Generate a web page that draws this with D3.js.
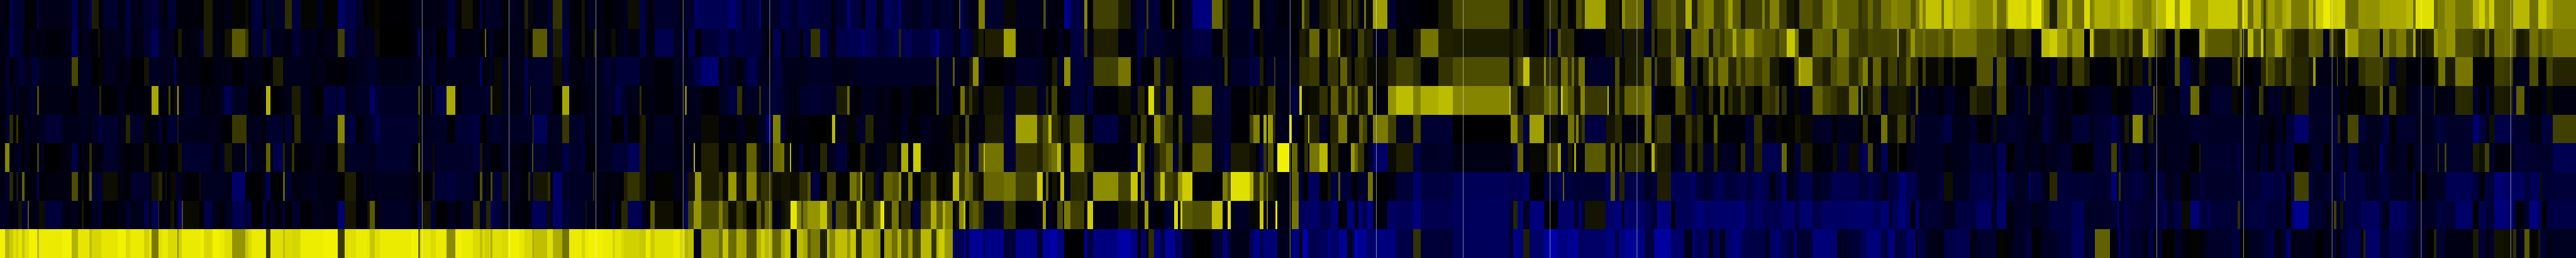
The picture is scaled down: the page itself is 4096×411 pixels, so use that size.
<!DOCTYPE html>
<html><head><meta charset="utf-8">
<script src="https://cdn.jsdelivr.net/npm/d3@7"></script>
<style>html,body{margin:0;padding:0;background:#000;overflow:hidden}svg{display:block}</style>
</head><body><svg id="chart"></svg>
<script>
// Each row holds eight reference segments; each segment is a flat list of (end position, value) pairs.
// Positions run 0-1568 inside a segment; values run -125 (blue) .. 0 (black) .. 100 (yellow).
const row1=[
[25,-10,47,-3,65,-40,118,-22,140,0,180,-4,190,-35,347,-12,380,-38,397,-5,433,-15,447,-40,478,11,500,-5,570,-22,610,-10,633,-35,700,-12,735,-22,768,-30,800,-12,815,-5,855,-28,885,-5,975,-6,988,-3,1032,11,1065,-10,1090,-3,1127,-12,1190,2,1205,5,1220,-5,1272,-30,1290,-3,1312,-25,1325,3,1383,-20,1417,18,1458,-30,1540,2,1568,-18],
[70,1,105,-50,160,-35,197,-20,215,-2,228,-10,252,2,275,3,430,-2,602,-10,642,-28,673,-3,729,8,762,-3,775,-40,788,-3,868,-18,898,-3,978,-14,997,13,1005,-14,1018,3,1090,-12,1116,-25,1162,20,1195,-25,1256,-4,1270,8,1288,-8,1315,-18,1365,-10,1400,-1,1420,-6,1460,-8,1480,-16,1538,5,1568,-35],
[42,-8,135,-22,165,-18,190,-8,205,-25,232,-20,265,-45,400,-40,437,-55,470,-38,482,-12,550,-32,558,-70,582,-10,610,-18,650,-20,700,-35,742,-22,785,-35,845,-28,900,-25,920,-8,975,-25,992,-58,1042,-32,1065,-10,1120,-40,1133,-3,1153,-18,1195,-45,1228,-35,1240,-60,1290,-20,1342,-16,1385,-28,1425,-15,1490,-22,1520,-12,1525,30,1542,-45,1568,-22],
[5,5,47,-12,77,50,170,-22,227,3,360,-14,372,30,385,-25,450,-8,463,-2,491,-70,560,-32,574,52,602,0,724,25,785,11,817,-14,863,-28,871,25,928,-28,952,-2,988,-3,996,45,1036,-6,1083,-18,1179,-62,1232,40,1240,-14,1255,15,1272,3,1362,-18,1381,-5,1410,38,1442,-10,1480,-16,1498,-12,1555,-6,1568,-18],
[28,1,35,-35,47,-4,60,45,85,18,133,-12,172,10,188,15,225,22,235,-1,267,12,288,28,295,-3,318,18,328,8,350,-12,360,45,392,4,463,62,505,-25,626,-6,710,0,781,10,832,28,1054,30,1072,5,1096,-8,1121,18,1152,-16,1223,0,1255,14,1289,18,1305,-6,1338,18,1380,2,1405,32,1422,20,1523,63,1540,8,1568,10],
[20,10,33,0,48,55,141,40,178,-28,204,18,271,32,295,40,343,22,372,68,400,12,430,40,480,50,532,25,550,42,571,62,612,35,632,10,715,25,728,50,752,25,798,50,833,24,870,10,893,5,960,32,1008,24,1057,45,1077,55,1182,36,1200,20,1228,25,1252,40,1292,26,1340,44,1372,52,1435,48,1460,30,1478,45,1493,70,1508,50,1568,76],
[17,75,30,45,70,78,85,62,154,70,187,60,268,52,284,70,331,42,340,65,430,85,452,72,502,90,515,60,543,42,579,12,627,50,651,74,710,42,737,85,755,50,762,60,834,68,868,62,882,65,905,78,944,74,994,55,1035,48,1062,60,1107,72,1150,90,1173,60,1225,88,1268,62,1312,62,1455,78,1475,42,1502,80,1530,42,1568,68],
[12,45,24,25,35,50,68,62,105,52,125,65,150,70,236,48,258,72,272,45,308,80,345,92,380,80,418,82,432,40,484,40,518,58,592,57,638,65,722,66,758,72,770,42,860,88,880,40,915,48,967,58,1053,45,1085,70,1113,82,1136,60,1160,80,1212,45,1254,44,1336,72,1380,44,1420,78,1452,64,1568,52]];
const row2=[
[47,-10,65,-42,108,-25,120,-15,140,-2,180,-12,190,-3,218,-10,303,-5,347,-10,380,-45,397,-5,433,-14,478,-6,482,20,497,-4,610,-12,633,-30,700,-10,735,-25,768,-42,845,-15,865,-2,882,10,967,-8,988,-25,1032,11,1075,-10,1090,-3,1127,7,1190,35,1205,20,1220,-5,1275,-25,1292,7,1312,-40,1383,-12,1417,-8,1458,-25,1515,-12,1540,-15,1568,-6],
[71,-12,105,25,160,-30,215,-14,252,-18,275,4,430,0,463,-8,472,-60,485,-5,523,-14,533,-4,547,-25,602,0,642,-38,673,-3,730,-10,762,-12,787,-2,793,40,812,-12,822,-30,868,-6,898,-2,978,-12,997,6,1018,-4,1087,35,1116,-25,1162,11,1195,-35,1256,-5,1270,8,1288,-4,1315,-8,1325,12,1365,-10,1400,-6,1420,5,1460,-10,1480,-20,1538,-8,1568,-35],
[42,-8,135,-38,165,-14,190,-25,205,-2,238,-40,267,-4,355,-28,398,-38,437,-22,470,-35,555,-30,582,-16,615,-3,657,-42,672,0,748,-25,763,-3,798,-32,845,20,878,-45,900,-18,920,-8,975,-35,1050,-40,1063,-60,1120,-38,1155,-25,1195,-32,1228,-42,1240,14,1290,-40,1385,-30,1410,-45,1423,-65,1490,-30,1525,-12,1550,-38,1568,-30],
[20,-30,47,4,72,11,77,-10,169,12,227,62,330,-10,360,-14,428,-2,460,-15,491,-5,560,-32,574,22,604,-12,724,12,785,-8,817,-6,853,-35,863,10,951,-22,1036,-12,1083,-22,1179,-32,1232,-8,1254,18,1272,-5,1362,-14,1383,-30,1410,-4,1428,5,1448,-14,1568,-12],
[35,-6,65,12,85,8,133,40,172,-1,188,40,225,28,235,52,265,3,288,8,303,-18,320,-2,350,25,365,10,392,12,466,-16,505,15,588,-4,626,12,710,45,781,13,832,11,1054,11,1072,5,1096,12,1121,14,1152,5,1223,-2,1237,12,1289,-16,1305,32,1338,16,1370,18,1392,0,1422,-5,1523,-10,1568,8],
[33,10,42,-28,141,10,178,-22,192,22,204,-2,271,16,295,40,343,14,370,-20,400,42,430,40,455,44,476,8,510,35,532,22,571,35,588,65,632,38,674,58,715,38,777,32,797,22,833,35,872,78,892,45,902,5,960,6,1008,40,1057,38,1077,15,1137,48,1182,25,1227,20,1252,28,1292,26,1330,25,1370,28,1378,70,1412,14,1435,30,1457,58,1493,36,1508,42,1568,34],
[30,40,70,30,85,52,154,45,187,45,268,33,284,35,331,22,340,6,370,10,430,25,452,22,502,-10,543,72,579,80,627,62,651,42,710,58,737,-8,755,75,760,30,834,20,868,30,905,22,925,15,944,30,994,12,1022,72,1050,50,1090,22,1107,15,1150,-6,1173,42,1225,0,1268,1,1295,65,1312,40,1428,35,1465,25,1475,50,1502,15,1530,72,1568,35],
[12,78,24,18,68,40,105,63,125,35,150,28,166,22,236,13,272,36,308,32,340,-18,362,30,382,14,394,8,418,6,432,75,484,60,518,38,592,40,608,-8,638,50,671,35,722,48,758,25,770,65,822,10,860,14,880,60,922,50,967,58,1053,30,1085,20,1113,16,1136,40,1160,10,1212,42,1254,44,1272,32,1312,10,1336,14,1380,44,1400,30,1420,40,1452,36,1568,46]];
const row3=[
[27,-8,47,-25,63,0,90,-15,120,-25,155,-14,190,-28,347,-12,380,28,447,-16,478,0,497,2,570,-14,610,-8,633,-14,700,-2,725,8,770,-18,845,-14,855,-45,975,-8,1032,-2,1127,-10,1190,-2,1198,-25,1275,-10,1312,-2,1325,-10,1373,12,1510,-14,1540,-8,1568,-12],
[70,-6,105,-3,160,-10,215,-14,252,-20,275,-16,430,-10,470,-14,485,-10,523,-18,547,-25,600,-8,762,-14,775,-50,803,-4,828,-16,868,3,898,-18,918,-8,978,-12,997,-40,1018,-14,1116,-22,1162,5,1195,-25,1256,-8,1270,-3,1288,-20,1315,-12,1360,-14,1400,-25,1420,-18,1538,-28,1568,-12],
[42,-12,135,-5,165,-16,205,-14,232,-20,267,-35,355,-55,372,-3,398,-25,442,-16,465,-3,488,-18,540,-38,555,-18,615,-14,655,-32,700,-14,785,-12,900,-18,920,-12,1020,-12,1410,-18,1423,28,1488,-18,1498,35,1525,-16,1568,-8],
[20,10,47,55,72,-25,77,-10,169,0,227,-8,330,-20,372,-15,385,2,403,-5,428,11,455,-22,463,-5,491,55,560,-28,604,-20,724,25,785,46,817,-3,835,-28,870,-6,898,-6,928,25,952,-25,992,5,1018,-10,1036,-1,1083,-18,1179,-20,1240,-16,1254,22,1272,-3,1362,-20,1410,-32,1428,12,1445,-3,1480,-20,1488,22,1555,-15,1568,-5],
[35,-14,85,18,133,22,172,-10,225,20,235,-18,267,38,288,10,303,-5,325,15,345,18,365,15,465,4,505,14,588,25,626,17,710,-4,781,20,832,30,1054,30,1072,-4,1096,18,1121,30,1152,75,1223,14,1232,55,1289,18,1305,4,1338,42,1358,18,1370,42,1392,12,1422,45,1530,-20,1568,-18],
[20,30,48,3,141,11,178,38,192,-28,204,28,271,7,295,36,335,52,370,-18,400,20,428,0,455,16,476,44,500,18,550,44,588,15,612,36,632,20,674,32,715,24,752,34,797,10,833,2,870,-8,892,30,902,70,960,62,1008,20,1048,11,1077,30,1137,38,1182,16,1202,30,1227,50,1252,8,1292,38,1325,9,1370,24,1378,-30,1412,16,1435,36,1470,18,1478,-2,1493,-5,1508,26,1568,3],
[30,10,70,-6,85,14,154,1,187,-3,268,33,284,-25,331,33,370,-18,430,-6,452,15,502,-4,515,-12,543,-1,579,-20,627,11,651,-2,710,22,737,11,760,-2,834,-6,868,1,888,25,905,3,925,8,944,-6,994,8,1022,-18,1035,20,1062,-10,1107,-1,1150,-10,1173,30,1225,-35,1268,-10,1295,12,1312,1,1428,-12,1455,16,1468,40,1530,-2,1568,-10],
[24,16,35,40,68,28,105,16,125,10,150,32,236,15,258,8,272,60,378,-10,382,40,420,-8,432,18,484,-8,518,18,592,25,608,28,638,14,671,-25,722,5,768,-6,822,-6,860,-1,883,5,917,45,967,10,1053,46,1085,-4,1113,-3,1160,-4,1212,24,1254,22,1264,1,1336,-14,1380,30,1420,-5,1452,26,1568,14]];
const row4=[
[27,-8,65,-22,78,-2,90,-25,140,-8,180,-20,190,30,347,-10,380,-1,430,-15,481,-14,493,15,570,-3,612,-12,633,-2,735,-6,768,65,785,-2,817,-8,828,25,845,-4,860,4,866,65,890,-3,975,-18,988,-2,1075,-8,1090,-20,1127,-40,1205,-16,1275,-3,1292,-18,1312,70,1373,-3,1417,-12,1458,11,1508,-16,1540,-5,1568,-1],
[65,-30,71,-8,105,-35,160,-12,215,-18,227,-20,252,-45,275,-28,463,-18,472,28,485,-8,523,-8,527,12,547,-14,601,-35,641,66,673,-6,793,-18,803,-30,813,-15,822,25,868,3,898,-15,978,-10,995,-40,1005,-5,1008,30,1116,-20,1162,0,1195,65,1256,-4,1288,-8,1325,-12,1360,-12,1418,-20,1447,-38,1480,-20,1538,-12,1546,18,1568,-5],
[42,-10,135,-4,190,-12,198,50,238,-14,267,-14,355,-3,398,-16,441,-32,467,20,488,-14,550,-18,557,20,615,-20,655,-28,700,-15,745,-10,798,-22,845,-25,924,-20,975,11,990,40,1020,-10,1042,0,1065,-15,1120,-14,1170,-8,1195,-10,1225,-2,1240,0,1295,-12,1335,-1,1380,-4,1410,-6,1423,25,1490,-18,1525,-1,1547,45,1568,8],
[15,20,47,6,72,-10,169,8,227,-22,330,9,372,-18,385,15,402,-4,428,25,462,-3,491,-8,560,-28,574,-5,602,-35,724,-6,785,5,818,-14,853,14,871,-1,898,85,928,12,955,-22,990,35,1036,-6,1083,-15,1179,45,1240,-22,1272,-26,1362,-3,1381,8,1392,-2,1410,5,1452,2,1478,20,1488,25,1568,-12],
[35,-35,48,80,85,3,133,5,172,20,188,3,225,35,267,8,288,45,303,20,320,40,350,5,368,8,392,50,465,-6,505,58,588,74,626,50,710,68,781,74,832,52,1054,52,1062,80,1072,20,1096,22,1121,-8,1152,18,1223,22,1237,40,1289,40,1305,8,1316,80,1338,45,1370,32,1400,8,1422,52,1530,22,1537,75,1568,4],
[20,30,45,10,142,38,178,48,192,-38,204,-4,293,-2,343,28,372,8,393,-30,428,6,455,2,476,18,510,1,532,34,550,-1,572,18,612,8,632,25,674,8,715,-1,752,22,777,18,797,28,810,-10,833,18,870,-10,895,3,960,-14,1008,38,1048,26,1077,20,1137,13,1180,44,1195,-35,1202,44,1227,5,1252,12,1292,25,1325,-20,1370,10,1412,11,1435,6,1460,-16,1470,30,1508,-12,1568,-12],
[30,-5,85,-18,154,-6,187,16,260,10,284,-16,331,28,370,-8,438,-18,447,15,515,-12,543,-28,579,-18,627,-8,651,-14,710,-2,737,-10,760,-14,840,-18,872,2,925,-4,944,-10,1046,-26,1052,40,1100,4,1150,-12,1173,-5,1225,-28,1268,42,1296,-6,1320,-4,1428,-22,1455,3,1485,-3,1500,-25,1530,-12,1558,-4,1568,25],
[12,20,35,-8,105,-18,125,3,150,-10,167,3,236,12,272,-18,394,-16,420,-4,432,-18,484,1,518,-1,592,10,608,38,638,-12,671,25,722,4,768,-12,864,-16,868,25,917,-8,967,-10,1053,16,1085,-20,1121,-5,1136,-30,1160,-4,1212,11,1254,10,1272,-32,1312,37,1338,-15,1400,0,1420,-14,1452,4,1568,-8]];
const row5=[
[27,-6,47,-25,63,17,78,-5,90,20,118,-2,135,-18,190,-12,218,-15,303,-25,390,-12,432,-14,447,-5,480,-18,495,-35,570,-22,612,-12,633,15,700,-20,723,2,770,-10,787,-25,803,-1,817,-14,862,-25,866,10,975,-14,1075,-12,1090,-5,1127,-2,1198,22,1275,-14,1292,-5,1373,-22,1383,-1,1417,-25,1428,-1,1458,17,1510,-14,1568,-12],
[71,-18,105,53,160,-30,197,-6,225,-16,252,-22,275,-40,463,-22,472,6,485,-8,523,-14,602,-18,642,-4,729,-25,762,-32,778,-3,795,-1,822,-18,868,-22,898,-14,1017,-18,1020,25,1087,-42,1116,-14,1162,-16,1195,22,1256,-20,1270,-28,1288,-2,1315,-14,1365,-14,1402,-18,1460,-2,1480,-28,1538,-4,1546,8,1568,11],
[42,-10,135,-16,165,-4,210,-12,268,-12,355,4,400,-8,440,-4,488,-12,540,1,582,-15,610,-50,615,-3,652,50,673,-30,742,-4,785,-6,880,0,902,2,917,72,975,-15,1020,2,1065,-20,1105,14,1190,-10,1240,-4,1272,-18,1335,-4,1380,-14,1455,-8,1490,1,1520,8,1550,-6,1568,30],
[47,-5,77,-10,169,11,227,-25,330,62,357,15,385,30,402,70,430,18,445,12,455,-2,490,8,560,35,574,-25,602,-1,724,-32,785,-8,817,12,833,-2,862,22,898,2,928,55,950,30,990,16,1018,2,1036,25,1083,-18,1179,10,1240,-20,1272,-25,1362,-3,1381,25,1410,50,1428,-1,1445,65,1452,-10,1475,60,1488,15,1555,-14,1568,85],
[33,-14,60,0,78,15,85,65,133,14,172,-20,185,-2,225,14,267,46,325,3,345,38,365,25,392,-12,465,48,505,25,588,-18,626,28,710,-24,781,-25,1062,-1,1096,55,1121,18,1154,-35,1222,62,1255,-12,1289,5,1340,-10,1370,45,1380,12,1392,50,1405,8,1420,22,1525,-32,1568,8],
[32,16,48,-10,142,-8,178,45,192,-2,204,15,271,24,295,-14,343,2,372,22,400,8,428,18,480,-4,498,34,632,-4,674,-22,715,18,780,-8,810,3,833,-2,872,1,902,8,960,3,1008,-18,1057,-20,1077,-2,1180,-14,1202,-6,1227,20,1252,-2,1292,-6,1322,45,1370,5,1412,25,1435,-10,1457,14,1478,-25,1568,-18],
[30,-22,68,-35,154,-12,187,-20,260,-3,270,-28,284,5,338,-16,370,-22,430,-18,505,-10,543,-30,580,-16,651,-8,737,-26,760,-14,840,-24,870,-38,905,-16,925,10,944,-16,994,52,1022,-18,1035,12,1046,16,1225,-14,1268,-22,1310,-20,1568,-18],
[12,-6,35,-14,68,-4,105,-16,125,-3,166,-28,236,-50,362,-18,382,-30,394,16,420,-8,432,-14,484,28,518,-28,608,-14,638,-35,671,-3,768,-22,864,-14,917,-28,1053,-20,1085,-55,1121,-30,1136,-12,1160,6,1254,-35,1336,-22,1400,-10,1452,-30,1568,25]];
const row6=[
[25,-6,47,52,78,-10,108,-16,120,-2,140,-14,180,-1,190,25,218,-14,303,-1,347,-8,380,-35,397,-5,433,-8,447,18,482,-8,495,-4,570,-20,610,-10,633,-1,700,-8,723,8,770,-1,815,-10,865,-2,882,8,967,-22,1032,-22,1065,-8,1090,-22,1127,9,1190,-12,1198,25,1220,-30,1292,-10,1312,38,1325,-5,1373,-38,1383,15,1417,-12,1428,20,1510,-5,1568,-12],
[71,-6,105,22,228,-18,252,-12,430,-22,463,-10,472,35,485,-8,533,-18,541,4,730,-20,762,-30,775,10,813,-14,822,-2,868,-5,918,-16,978,-8,997,-1,1015,-18,1020,30,1090,-22,1116,-12,1162,-14,1192,-35,1256,-20,1270,-30,1325,-4,1405,-16,1460,-28,1480,-20,1538,-42,1568,10],
[42,-14,135,-14,180,-8,232,-14,238,70,267,-6,355,12,400,-5,440,12,488,-8,538,38,557,5,615,-14,652,42,672,45,700,6,704,70,745,-5,763,-30,798,-1,845,-10,878,15,920,-14,975,-28,1040,0,1065,15,1105,-8,1170,-12,1222,9,1240,-12,1272,68,1298,-10,1335,80,1380,-10,1455,-4,1498,-8,1520,30,1550,20,1568,45],
[20,-2,47,-25,72,30,77,75,169,45,227,-25,330,18,357,12,385,28,402,38,428,45,445,72,462,15,491,-10,560,57,604,15,724,-6,785,-6,818,-22,833,75,853,40,870,-8,898,-16,926,11,955,24,990,40,1018,-25,1036,20,1083,-2,1179,37,1240,-18,1254,-40,1272,-25,1362,10,1392,5,1410,-10,1428,-40,1445,20,1452,4,1478,33,1498,-12,1555,94,1568,-5],
[27,40,35,5,60,-10,78,18,85,-5,133,46,172,72,188,-3,225,18,287,-6,303,60,320,40,350,22,368,-4,392,-20,465,-50,506,4,588,12,626,-35,710,-18,781,-20,1054,-10,1072,-10,1096,-40,1121,40,1154,-12,1223,3,1237,-8,1289,28,1305,65,1340,-18,1360,10,1370,-6,1380,65,1422,-8,1523,35,1548,5,1568,38],
[20,0,33,35,48,0,142,20,178,0,192,70,204,18,271,10,295,-10,343,-20,372,18,400,-6,428,14,480,-20,498,14,510,-2,590,-18,612,0,632,20,674,-25,715,13,810,-38,833,40,870,2,902,-28,960,10,1008,-4,1057,-8,1077,6,1137,-22,1182,4,1202,-30,1227,-42,1252,25,1292,-10,1325,-40,1370,1,1378,15,1412,0,1460,-14,1478,-20,1568,-18],
[30,-18,68,-8,105,-12,154,-14,187,-28,268,-24,284,-12,331,-38,370,-2,430,-16,445,-8,500,-14,518,-6,579,-14,651,-20,710,-1,755,0,840,-25,867,25,878,-6,888,-60,905,-14,925,-3,995,-22,1022,-6,1046,-16,1062,-25,1100,-12,1107,-2,1225,-14,1268,0,1275,10,1455,-22,1468,-35,1548,-20,1560,-1,1568,-14],
[35,-22,68,-8,105,-25,125,-16,166,-30,236,0,258,-16,308,-22,345,-1,395,-25,420,-18,432,-2,484,-30,518,-12,592,-14,608,-50,638,-22,671,-8,730,-18,758,-1,880,-18,884,20,915,-20,922,25,1053,-22,1085,11,1113,6,1136,25,1160,-22,1212,-6,1254,-4,1336,-25,1400,-22,1452,-20,1568,-40]];
const row7=[
[25,-10,47,-22,63,16,78,-8,90,10,107,-18,118,38,180,-6,190,-45,218,-1,347,-8,380,30,397,-8,405,4,428,-2,433,6,447,35,497,-25,570,5,610,-8,633,-2,723,-22,735,-14,770,7,787,15,803,-8,810,8,828,-6,855,4,882,-20,967,-3,975,6,1090,-16,1127,-12,1190,-52,1220,-3,1275,0,1292,-15,1312,-40,1373,-2,1383,38,1417,-25,1458,-8,1510,-12,1540,-16,1568,-10],
[70,-10,105,-1,160,11,197,-3,215,-18,225,-3,430,-14,463,-8,485,4,523,-1,533,-14,541,10,601,-25,642,-30,730,-22,762,-10,775,32,795,-16,803,4,813,-3,822,30,868,-28,898,8,955,-14,997,-5,1005,18,1020,-25,1090,9,1104,18,1116,-10,1162,-50,1310,-18,1317,20,1365,-10,1400,-5,1418,-10,1460,-6,1480,12,1538,20,1568,10],
[42,-8,135,1,165,-12,190,-6,205,-35,238,8,267,58,355,11,372,22,400,3,438,60,467,8,488,3,538,52,557,10,612,20,655,5,700,8,745,5,783,18,798,32,845,-30,878,-2,920,25,990,1,1022,45,1040,30,1050,70,1065,-1,1105,16,1120,5,1132,-35,1153,-3,1195,38,1228,32,1240,55,1272,4,1295,50,1335,-2,1383,14,1410,32,1440,3,1452,-5,1488,3,1520,72,1547,20,1568,42],
[20,35,47,10,72,4,169,40,227,45,330,25,357,80,372,-18,385,40,405,0,428,8,443,-5,462,75,491,-18,560,16,574,20,602,-10,724,55,785,25,818,78,833,-5,853,52,871,-35,898,-10,928,25,950,75,990,25,1014,18,1036,60,1083,80,1179,-5,1232,-1,1254,48,1272,30,1362,88,1381,68,1410,20,1428,50,1445,20,1452,45,1478,12,1498,5,1568,-8],
[33,38,50,-35,78,-4,133,-45,172,-2,188,8,225,-32,235,35,290,-28,318,-4,368,-22,392,45,465,-1,505,-8,588,-28,626,-52,781,-32,1054,-42,1121,-38,1154,-50,1223,-1,1289,-28,1316,-40,1322,40,1370,-30,1420,-25,1523,-24,1548,-45,1568,35],
[20,-35,45,14,142,-35,178,-16,204,-30,271,12,295,-42,372,-40,390,-50,430,-30,455,-22,478,-30,532,-40,572,-28,612,-32,632,-38,674,-32,728,-42,752,-35,777,-10,810,-28,833,-45,870,-12,895,-25,960,-38,1002,-16,1048,-22,1137,-38,1182,-38,1227,-28,1252,-38,1292,-30,1325,-12,1378,-30,1412,-55,1458,-38,1478,-25,1568,-18],
[30,-25,70,6,154,-16,187,-32,270,-35,284,-8,331,-42,370,-28,440,-16,447,-60,502,-30,515,-20,543,-8,579,16,651,-28,755,-25,840,-22,867,-58,878,-12,888,20,944,-25,994,-32,1035,-22,1046,2,1100,-30,1150,-14,1183,-22,1225,1,1275,-20,1295,-28,1455,-20,1568,-25],
[68,-35,105,-28,125,-40,150,-1,166,-35,236,26,258,-30,308,-16,394,-22,415,-40,420,30,518,-30,592,-18,638,-30,730,-16,758,-12,770,-40,822,0,917,-16,1053,-40,1087,-30,1113,-6,1160,-30,1212,-55,1254,-48,1312,-45,1340,-30,1390,-42,1400,5,1452,-25,1568,-28]];
const row8=[
[47,-16,63,-2,90,-10,107,8,135,-25,140,35,190,-10,218,5,303,-28,347,-10,380,-14,397,-4,405,10,433,-1,447,-8,480,-16,495,-25,570,-4,610,-10,633,-25,700,-12,723,-38,735,-2,768,-40,772,20,828,-8,845,8,865,-6,882,-55,888,30,967,4,988,-2,1032,-35,1065,-12,1090,-3,1127,-16,1190,-38,1205,-22,1220,-35,1275,-1,1292,-35,1312,-5,1325,-25,1373,-8,1383,-35,1417,0,1458,-22,1510,-2,1568,-12],
[70,-10,105,-55,160,8,215,-5,227,8,252,35,275,2,430,-18,463,-8,472,-45,485,-15,523,8,547,-25,602,0,642,-14,673,-6,729,-18,762,18,793,-20,813,15,825,-50,868,-30,925,-14,978,-6,997,-3,1015,-12,1088,-42,1104,4,1116,-20,1162,-48,1195,-25,1275,-20,1280,8,1312,-14,1365,-10,1392,-3,1405,-10,1418,-35,1447,1,1480,16,1545,-40,1568,-18],
[22,0,42,35,135,6,165,-1,190,-4,205,-55,232,25,267,58,355,28,372,50,398,28,438,5,470,25,488,15,538,1,557,35,575,12,612,38,655,-12,673,5,703,10,732,90,752,50,763,25,785,45,845,58,878,76,902,28,920,-30,975,28,992,10,1022,8,1040,72,1065,28,1105,12,1137,42,1155,90,1192,10,1228,45,1240,3,1285,18,1295,-5,1335,-30,1383,28,1410,68,1440,38,1452,70,1488,50,1500,-2,1520,6,1540,55,1550,75,1568,0],
[20,28,47,35,72,20,169,-18,227,20,330,-6,357,-14,372,60,405,-18,428,-6,455,30,463,-25,491,48,560,24,574,-1,603,80,724,-8,785,9,818,18,853,-8,871,62,898,-14,950,-4,996,-25,1014,85,1025,-2,1036,80,1083,35,1179,30,1232,75,1254,-5,1272,88,1362,-18,1392,2,1410,4,1428,80,1445,-8,1452,48,1488,-10,1498,88,1568,-10],
[33,46,78,-45,133,-50,188,-35,225,-55,267,-5,303,-62,318,-2,345,-55,365,-35,392,-68,463,-8,505,-48,588,-42,626,-62,781,-38,1054,-45,1072,-25,1096,15,1121,-60,1154,-15,1222,-60,1238,-8,1289,-2,1345,-50,1370,-55,1392,-20,1405,-55,1422,-25,1523,8,1568,-50],
[33,-60,42,-8,142,-50,178,-38,204,-25,271,-62,293,-6,375,-42,390,-50,430,-58,475,-48,612,-52,632,-60,674,-40,715,-48,780,-38,812,-38,872,-50,895,-30,960,-52,1002,-35,1048,-48,1137,-48,1182,-50,1252,-52,1292,-42,1330,-55,1345,-20,1378,-45,1412,-58,1435,-40,1458,-12,1478,-55,1495,-14,1568,-25],
[30,-22,85,-12,187,-32,260,-48,284,-18,331,-50,370,-8,430,-18,452,-22,502,-12,543,-18,651,-30,710,-42,755,-18,840,-20,870,-25,878,-62,905,-20,925,-35,994,-25,1035,-20,1090,-28,1107,-40,1150,-22,1183,-35,1225,4,1268,-58,1310,-30,1320,-45,1455,-28,1468,18,1500,-22,1568,-30],
[24,-35,105,-25,125,-30,150,-1,166,-55,236,-70,272,-20,308,-25,362,-14,376,25,394,-22,408,8,420,-22,500,-32,592,-45,608,-28,638,-12,722,-45,770,-30,870,-18,917,-30,967,-25,1053,-50,1082,0,1121,-38,1160,-25,1212,-60,1254,-55,1272,-30,1312,-6,1336,-22,1380,-62,1400,-40,1420,-2,1452,-30,1568,-35]];
const row9=[
[25,95,47,70,63,80,78,88,90,82,107,90,118,78,140,88,180,95,190,72,218,92,303,92,347,95,380,70,433,90,447,75,493,84,570,90,610,95,633,86,700,92,723,82,735,90,768,48,787,88,815,92,860,85,866,55,882,82,975,92,988,95,1032,85,1065,95,1090,92,1127,87,1190,58,1205,78,1220,86,1292,92,1312,22,1373,88,1383,75,1417,86,1458,84,1568,93],
[71,95,105,22,160,88,215,92,227,90,252,78,275,88,430,92,463,95,472,42,482,88,523,90,547,86,601,92,641,54,673,94,729,92,762,86,775,75,787,86,803,80,813,84,822,68,868,88,898,85,955,94,978,90,1017,84,1020,55,1087,75,1116,88,1162,68,1195,45,1256,92,1270,84,1288,92,1315,95,1360,94,1405,92,1418,82,1447,90,1460,85,1538,82,1568,78],
[22,92,42,80,135,88,165,92,190,84,205,70,232,75,238,-2,267,-14,355,58,372,42,400,76,438,42,467,68,488,65,538,32,557,70,575,82,612,72,655,40,673,68,703,78,732,-8,763,74,785,66,798,34,845,48,878,12,892,72,918,52,975,75,992,58,1020,78,1048,15,1105,68,1137,60,1155,-2,1192,62,1222,44,1240,70,1272,35,1295,60,1335,25,1385,72,1410,20,1422,70,1450,80,1488,60,1500,-55,1545,-40,1552,-70,1568,-30],
[72,-72,77,-30,169,-65,227,-28,330,-65,358,-22,385,-78,402,-72,428,-85,445,-55,463,-65,560,-2,574,-70,603,-30,724,-62,785,-82,818,-60,833,-3,862,-50,871,-5,898,18,928,-60,950,-30,998,-72,1036,-45,1083,-18,1179,-1,1232,-25,1254,-55,1272,-30,1362,-12,1381,-40,1410,-65,1428,-40,1452,-60,1480,-55,1498,-60,1568,-14],
[36,-62,50,-10,78,-82,133,-38,172,-45,190,-62,228,-50,267,-72,288,-12,303,-35,316,-95,362,-72,405,-50,463,-60,505,-62,588,-35,626,20,710,-28,781,-25,832,-42,1054,-44,1072,-20,1096,-70,1121,-60,1152,12,1223,-50,1238,-70,1289,-82,1340,-62,1392,-72,1422,-45,1523,-50,1568,-62],
[20,-35,48,-62,108,-72,142,-65,190,-30,272,-78,336,-50,376,-14,390,-55,430,-40,455,-48,476,-12,510,-42,533,-12,572,-50,612,-62,632,-40,730,-35,750,-18,780,-48,797,-62,833,-40,870,-28,882,-55,960,-25,1002,-60,1048,-58,1077,-55,1137,-18,1195,-28,1225,-42,1292,-60,1325,-32,1358,-62,1372,-20,1412,-32,1460,-52,1468,-10,1508,-32,1568,-12],
[30,-10,85,-35,154,-38,187,-10,268,-22,284,-25,331,1,370,-8,430,-18,452,-30,502,-3,579,-18,651,-28,710,-45,737,-18,762,-28,834,38,868,-8,878,-14,888,-55,905,-18,925,-35,994,-22,1022,-10,1046,-35,1062,-4,1087,-25,1107,-1,1150,0,1183,-20,1225,-6,1268,1,1295,-8,1312,-14,1428,-20,1468,-30,1475,-1,1502,1,1530,-15,1568,-18],
[30,-22,68,-35,105,-8,125,-25,150,-50,166,-1,272,-12,308,0,362,-12,376,-28,394,-3,432,-25,496,-40,510,0,518,15,592,-50,638,-25,722,-38,758,-28,782,-10,822,-20,860,-1,873,15,917,-25,1053,-10,1082,10,1121,-25,1136,-3,1160,-22,1212,7,1254,6,1272,18,1312,-15,1336,35,1380,2,1390,10,1420,-25,1452,-12,1568,-16]];
const rows=[row1,row2,row3,row4,row5,row6,row7,row8,row9];
const segmentStarts=[0,1000,2000,3000,4000,5000,6000,7000,7975];
const seams=[1307,1576,1845,2115,2383,3994,4261,4530,4799,5068,6677,6946,7220,7496,7773];

const W=4096,H=411;
const svg=d3.select("#chart").attr("width",W).attr("height",H).attr("viewBox",[0,0,W,H]);
const xRef=d3.scaleLinear().domain([0,7975]).range([0,W]);
const y=d3.scaleBand().domain(d3.range(rows.length)).range([0,H]);
const color=d3.scaleLinear().domain([-125,0,100]).range(["#0000ff","#000000","#ffff00"]);

const cells=[];
rows.forEach((row,r)=>row.forEach((flat,s)=>{
  const seg=d3.scaleLinear().domain([0,1568]).range([segmentStarts[s],segmentStarts[s+1]]);
  let prev=0;
  for(let i=0;i<flat.length;i+=2){
    cells.push({r,x0:seg(prev),x1:seg(flat[i]),v:flat[i+1]});
    prev=flat[i];
  }
}));
svg.append("g").attr("shape-rendering","crispEdges").selectAll("rect").data(cells).join("rect")
  .attr("x",d=>xRef(d.x0)).attr("y",d=>y(d.r))
  .attr("width",d=>Math.max(0,xRef(d.x1)-xRef(d.x0))).attr("height",y.bandwidth())
  .attr("fill",d=>color(d.v));
svg.append("g").selectAll("line").data(seams).join("line")
  .attr("x1",d=>xRef(d)).attr("x2",d=>xRef(d)).attr("y1",0).attr("y2",H)
  .attr("stroke","#fff").attr("stroke-width",0.513);
</script></body></html>
